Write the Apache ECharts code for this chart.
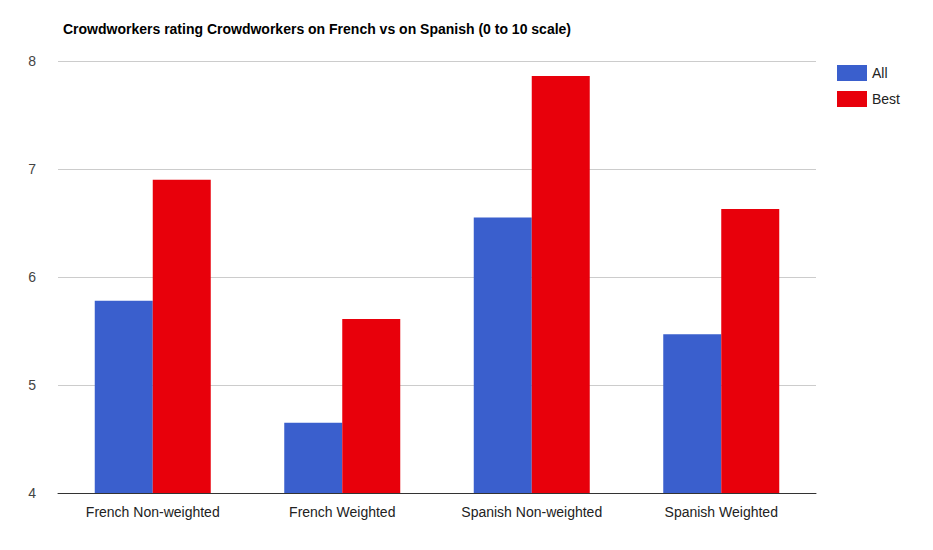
<!DOCTYPE html>
<html><head><meta charset="utf-8">
<script src="https://cdn.jsdelivr.net/npm/echarts@6/dist/echarts.min.js"></script>
<style>html,body{margin:0;padding:0;background:#fff}#c{width:933px;height:550px}</style>
</head><body><div id="c"></div>
<script>
var categories = ['French Non-weighted', 'French Weighted', 'Spanish Non-weighted', 'Spanish Weighted'];
var allValues = [5.78, 4.65, 6.55, 5.47];
var bestValues = [6.90, 5.61, 7.86, 6.63];

var chart = echarts.init(document.getElementById('c'), null, { renderer: 'svg' });
chart.setOption({
  animation: false,
  textStyle: { fontFamily: 'Arial, Liberation Sans, sans-serif' },
  title: {
    text: 'Crowdworkers rating Crowdworkers on French vs on Spanish (0 to 10 scale)',
    left: 58, top: 17,
    textStyle: { fontSize: 14, fontWeight: 'bold', color: '#000' }
  },
  legend: {
    orient: 'vertical', left: 832, top: 60, itemGap: 10,
    itemWidth: 30, itemHeight: 16,
    textStyle: { fontSize: 14, color: '#222' },
    icon: 'rect',
    data: ['All', 'Best']
  },
  grid: { left: 58, right: 117, top: 61, bottom: 57 },
  xAxis: {
    type: 'category', data: categories,
    axisTick: { show: false },
    axisLine: { lineStyle: { color: '#333' } },
    axisLabel: { fontSize: 14, color: '#222', margin: 12 }
  },
  yAxis: {
    type: 'value', min: 4, max: 8, interval: 1,
    axisLabel: { fontSize: 14, color: '#444', margin: 22 },
    splitLine: { lineStyle: { color: '#ccc' } },
    axisLine: { show: false }, axisTick: { show: false }
  },
  series: [
    { name: 'All', type: 'bar', data: allValues, barWidth: 58, barGap: '0%',
      itemStyle: { color: '#3a5fcd' } },
    { name: 'Best', type: 'bar', data: bestValues, barWidth: 58,
      itemStyle: { color: '#e8000b' } }
  ]
});
</script></body></html>
